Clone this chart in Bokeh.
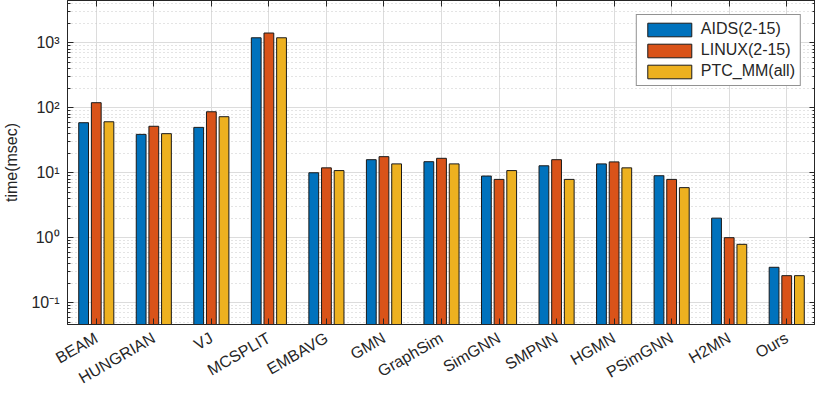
import math
from bokeh.plotting import figure
from bokeh.models import (ColumnDataSource, FactorRange, Range1d, FixedTicker, LogAxis,
                          CategoricalAxis, CustomJSTickFormatter, Legend, LegendItem)
from bokeh.transform import dodge
from bokeh.embed import file_html
from bokeh.resources import INLINE

methods = ["BEAM", "HUNGRIAN", "VJ", "MCSPLIT", "EMBAVG", "GMN", "GraphSim", "SimGNN",
           "SMPNN", "HGMN", "PSimGNN", "H2MN", "Ours"]
aids = [59, 39, 50, 1200, 10, 15.9, 14.8, 8.9, 12.8, 13.7, 9.0, 2.0, 0.35]
linux = [120, 52, 87, 1420, 11.9, 17.7, 16.7, 7.9, 15.9, 14.7, 7.9, 1.0, 0.26]
ptc = [61, 40, 73, 1200, 10.8, 13.7, 13.7, 10.8, 7.9, 11.9, 5.9, 0.79, 0.26]
series_names = ["AIDS(2-15)", "LINUX(2-15)", "PTC_MM(all)"]
colors = ["#0072BD", "#D95319", "#EDB120"]
y_ticks = [0.1, 1, 10, 100, 1000]

src = ColumnDataSource(dict(m=methods, aids=aids, linux=linux, ptc=ptc))

FONT = "Liberation Sans"
TXT = "#262626"

p = figure(width=815, height=396, x_range=FactorRange(*methods, range_padding=0),
           y_range=Range1d(0.046, 4500), y_axis_type="log",
           output_backend="svg", toolbar_location=None,
           min_border_left=0, min_border_right=0, min_border_top=0, min_border_bottom=0)

cols = ["aids", "linux", "ptc"]
offs = [-0.22, 0.0, 0.22]
items = []
for c, o, col, nm in zip(cols, offs, colors, series_names):
    r = p.vbar(x=dodge("m", o, range=p.x_range), top=c, bottom=0.001, width=0.17, source=src,
               fill_color=col, line_color="#1a1a1a", line_width=1)
    items.append(LegendItem(label=nm, renderers=[r]))

minor = [k * 10.0 ** e for e in range(-2, 4) for k in range(2, 10)]
ticker = FixedTicker(ticks=y_ticks, minor_ticks=minor)
fmt = CustomJSTickFormatter(code="""
const sup = {'0':'\\u2070','1':'\\u00b9','2':'\\u00b2','3':'\\u00b3','4':'\\u2074','5':'\\u2075','6':'\\u2076','7':'\\u2077','8':'\\u2078','9':'\\u2079','-':'\\u207b'};
const e = Math.round(Math.log10(tick));
return '10' + String(e).split('').map(ch => sup[ch]).join('');
""")

ya = p.yaxis[0]
ya.ticker = ticker
ya.formatter = fmt
ya.axis_label = "time(msec)"
ya.axis_label_text_font = FONT
ya.axis_label_text_font_size = "16px"
ya.axis_label_text_font_style = "normal"
ya.axis_label_text_color = TXT
ya.axis_label_standoff = 8
ya.major_label_text_font = FONT
ya.major_label_text_font_size = "16px"
ya.major_label_text_color = TXT
ya.major_label_standoff = 8
ya.major_tick_in = 6
ya.major_tick_out = 0
ya.minor_tick_in = 3
ya.minor_tick_out = 0
ya.axis_line_color = TXT
ya.major_tick_line_color = TXT
ya.minor_tick_line_color = TXT

xa = p.xaxis[0]
xa.major_label_orientation = math.radians(30)
xa.major_label_text_font = FONT
xa.major_label_text_font_size = "16px"
xa.major_label_text_color = TXT
xa.major_tick_in = 6
xa.major_tick_out = 0
xa.axis_line_color = TXT
xa.major_tick_line_color = TXT
xa.major_label_standoff = 12

ra = LogAxis(ticker=ticker, formatter=fmt, major_label_text_font_size="1px",
             major_label_text_alpha=0, major_label_standoff=0,
             major_tick_in=6, major_tick_out=0,
             minor_tick_in=3, minor_tick_out=0, axis_line_color=TXT,
             major_tick_line_color=TXT, minor_tick_line_color=TXT)
p.add_layout(ra, "right")
ta = CategoricalAxis(major_label_text_font_size="1px", major_label_text_alpha=0,
                     major_tick_in=6, major_tick_out=0,
                     axis_line_color=TXT, major_tick_line_color=TXT, major_label_standoff=0)
p.add_layout(ta, "above")

p.ygrid.ticker = ticker
p.ygrid.grid_line_color = "#dcdcdc"
p.ygrid.grid_line_width = 1
p.ygrid.minor_grid_line_color = "#c8c8c8"
p.ygrid.minor_grid_line_dash = "1 3"
p.ygrid.minor_grid_line_width = 1
p.xgrid.grid_line_color = "#dcdcdc"
p.xgrid.grid_line_width = 1
p.outline_line_color = TXT

leg = Legend(items=items, location="top_right", margin=14, padding=5, spacing=3,
             glyph_width=55, glyph_height=17, label_text_font=FONT, label_text_font_size="16px",
             label_text_color=TXT, border_line_color=TXT, border_line_width=1,
             label_standoff=4, background_fill_alpha=1)
p.add_layout(leg)

open("out.html", "w").write(file_html(p, INLINE))
